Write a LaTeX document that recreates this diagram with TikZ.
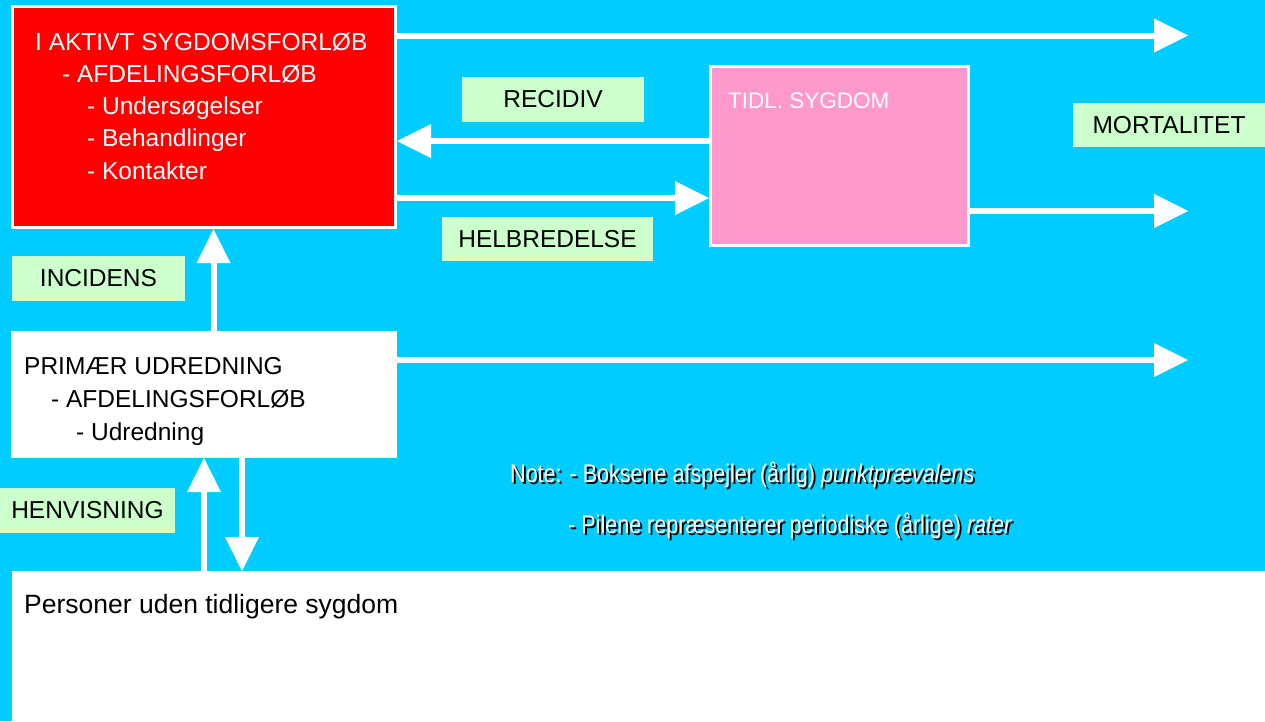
\documentclass[tikz,border=0pt]{standalone}
\usepackage{fontspec}
\setmainfont{Liberation Sans}
\newfontfamily\narrowfont[FakeStretch=0.845]{Liberation Sans}
\usetikzlibrary{arrows.meta}
\definecolor{bgcyan}{HTML}{00CCFF}
\definecolor{boxred}{HTML}{FF0000}
\definecolor{boxpink}{HTML}{FF99CC}
\definecolor{lblgreen}{HTML}{CCFFCC}
\newcommand{\shadowed}[1]{\makebox[0pt][l]{\hspace{2pt}\raisebox{-2pt}{\color{black}#1}}{\color{white}#1}}
\begin{document}
\begin{tikzpicture}[x=1pt,y=-1pt,
  statebox/.style={draw=white,line width=3pt,inner sep=0pt},
  lbl/.style={fill=lblgreen,inner sep=0pt,text=black,font=\fontsize{24.5}{29}\selectfont},
  arr/.style={draw=white,line width=6pt,-{Triangle[length=34pt,width=34pt,line width=0pt]}},
  txt/.style={anchor=base west,inner sep=0pt}]
\useasboundingbox (0,0) rectangle (1265,721);
\fill[bgcyan] (0,0) rectangle (1265,721);
% bottom population box
\node[fill=white,inner sep=0pt,minimum width=1253pt,minimum height=150pt,anchor=north west] (base) at (12,571) {};
\node[txt,font=\fontsize{26.5}{30}\selectfont] (basetext) at (24,613) {Personer uden tidligere sygdom};
% active disease
\node[statebox,fill=boxred,minimum width=383pt,minimum height=221pt] (act) at (204,117) {};
\node[txt,align=left,text=white,font=\fontsize{24.5}{32.25}\selectfont] (acttext) at (35,179)
  {I AKTIVT SYGDOMSFORLØB\\\hspace*{27pt}- AFDELINGSFORLØB\\\hspace*{52pt}- Undersøgelser\\\hspace*{52pt}- Behandlinger\\\hspace*{52pt}- Kontakter};
% previous disease
\node[statebox,fill=boxpink,minimum width=258pt,minimum height=179pt] (prev) at (839.5,156) {};
\node[txt,text=white,font=\fontsize{22.5}{27}\selectfont] (prevtext) at (728,108) {TIDL. SYGDOM};
% primary investigation
\node[fill=white,inner sep=0pt,minimum width=386pt,minimum height=127pt] (prim) at (204,394.5) {};
\node[txt,align=left,font=\fontsize{24.5}{33}\selectfont] (primtext) at (24,440)
  {PRIMÆR UDREDNING\\\hspace*{27pt}- AFDELINGSFORLØB\\\hspace*{52pt}- Udredning};
% labels
\node[lbl,minimum width=182pt,minimum height=45pt] (lrec) at (553,99.5) {RECIDIV};
\node[lbl,minimum width=211pt,minimum height=44pt] (lhel) at (547.5,239) {HELBREDELSE};
\node[lbl,minimum width=173pt,minimum height=45pt] (linc) at (98.5,278) {INCIDENS};
\node[lbl,minimum width=192pt,minimum height=44pt] (lmor) at (1169,125) {MORTALITET};
\node[lbl,minimum width=175pt,minimum height=45pt] (lhen) at (87.5,510.5) {HENVISNING};
% note
\node[txt,font=\narrowfont\fontsize{25.5}{30}\selectfont] (note1) at (510,482)
  {\shadowed{Note: - Boksene afspejler (årlig) \textit{punktprævalens}}};
\node[txt,font=\narrowfont\fontsize{25.5}{30}\selectfont] (note2) at (568,533)
  {\shadowed{- Pilene repræsenterer periodiske (årlige) \textit{rater}}};
% connector helper coordinates
\coordinate (topend) at (1188,35.5);
\coordinate (midend) at (1188,211);
\coordinate (primend) at (1188,360);
\coordinate (recy) at (0,141);
\coordinate (hely) at (0,198);
\coordinate (incx) at (213.5,0);
\coordinate (henx) at (204,0);
\coordinate (downx) at (242,0);
% arrows
\draw[arr] (act.east |- topend) -- (topend);
\draw[arr] (prev.west |- recy) -- (act.east |- recy);
\draw[arr] (act.east |- hely) -- (prev.west |- hely);
\draw[arr] (prev.east |- midend) -- (midend);
\draw[arr] (prim.east |- primend) -- (primend);
\draw[arr] (prim.north -| incx) -- (act.south -| incx);
\draw[arr] (base.north -| henx) -- (prim.south -| henx);
\draw[arr] (prim.south -| downx) -- (base.north -| downx);
\end{tikzpicture}
\end{document}
